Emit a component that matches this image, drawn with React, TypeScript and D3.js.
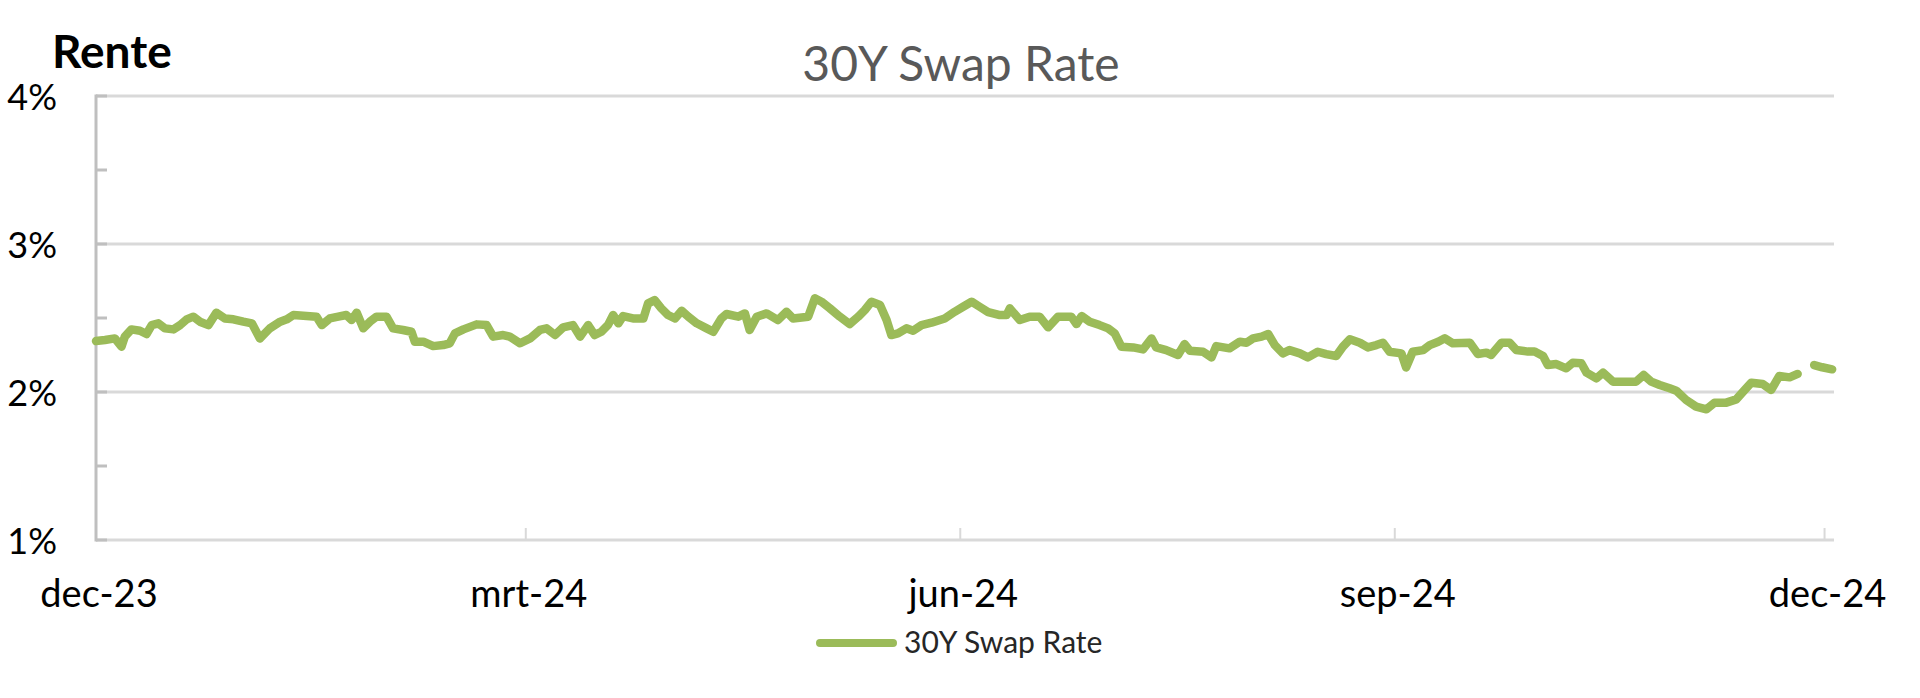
import React from "react";
import * as d3 from "d3";

// ---------- data ----------
const startDate = "2023-12-01";
const endDate = "2024-12-03";

// days since startDate
const dayOffsets: number[] = [
  0, 1.9, 4, 5.4, 6.1, 7.5, 9.3, 10.7, 11.8, 13.2, 14.6, 16.4, 17.8, 19.2, 20.6, 22, 23.8, 25.5, 27.3, 29.1,
  31.2, 33, 34.7, 36.8, 39, 40.4, 41.8, 43.9, 46.7, 47.8, 49.5, 51.3, 53, 54.1, 55.2, 56.6, 58, 59.4, 61.5, 62.9,
  65, 66.8, 67.5, 69.3, 71.4, 73.5, 74.9, 76, 77.8, 80.6, 82.7, 84.1, 86.2, 87.6, 89.8, 91.9, 94,
  95.4, 97.2, 98.9, 101, 102.5, 104.2, 105.6, 107, 108.4, 109.5, 110.6, 111.6, 113.7, 115.9, 116.9, 118.3, 119.7,
  121.1, 122.6, 124, 125.4, 127.2, 129.3, 130.7, 132.4, 133.5, 136, 137.4, 138.4, 139.9, 142, 144.4, 146.2, 147.6,
  150.8, 152.2, 153.6, 155.4, 157.5, 159.6, 161.4, 162.8, 164.2, 166, 167.4, 168.4, 169.8, 171.6, 173, 174.8, 176.9,
  179.7, 181.8, 183.6, 185.4, 187.1, 188.9,
  191.4, 192.8, 193.5, 195.6, 197.7, 199.8, 201.6, 203.7, 206.5, 207.6, 208.7, 210.4, 212.5, 214.3, 215.7, 217.1,
  219.6, 221.7, 223.5, 224.5, 226.6, 229.1, 230.5, 231.6, 234.4, 236.2, 237.2, 240, 242.2, 243.6, 245, 246.8, 248.2,
  249.6, 251.3, 252.7, 254.9, 256.6, 258.7, 260.5, 262.6, 264, 265.5, 267.6, 269.3, 271.1, 272.5, 273.9, 276.4,
  277.4, 278.8, 281, 282.4, 284.2,
  285.6, 287.3, 290.9, 292.6, 294.4, 295.4, 297.6, 299.3, 300.7, 303.2, 304.6, 306.4, 307.4, 309.2, 311.3, 312.7,
  314.5, 315.6, 317.7, 319.1, 321.2, 323.7, 326.1, 327.7, 329.3, 331.1, 333.2, 334.6, 336.7, 338.8, 341, 342.7,
  345.2, 347.3, 349.1, 350.5, 352.9, 354.7, 356.4, 358.6, 360.3, 362, 363.8, 365.5, 367.6,
];

// 30Y swap rate in %
const rates: (number | null)[] = [
  2.344, 2.351, 2.362, 2.306, 2.374, 2.423, 2.414, 2.392, 2.452, 2.464, 2.43, 2.423, 2.452, 2.491, 2.509, 2.475, 2.452, 2.536, 2.497, 2.491,
  2.475, 2.464, 2.362, 2.43, 2.475, 2.491, 2.52, 2.515, 2.509, 2.452, 2.497, 2.509, 2.52, 2.486, 2.536, 2.43, 2.475, 2.509, 2.509, 2.43,
  2.419, 2.407, 2.34, 2.34, 2.31, 2.317, 2.329, 2.396, 2.423, 2.457, 2.452, 2.374, 2.385, 2.374, 2.329, 2.362, 2.419,
  2.43, 2.385, 2.437, 2.452, 2.374, 2.452, 2.385, 2.407, 2.452, 2.52, 2.464, 2.513, 2.497, 2.497, 2.599, 2.621, 2.565,
  2.52, 2.497, 2.549, 2.509, 2.464, 2.43, 2.407, 2.497, 2.527, 2.509, 2.531, 2.419, 2.509, 2.531, 2.486, 2.542, 2.497,
  2.509, 2.633, 2.61, 2.565, 2.509, 2.459, 2.509, 2.554, 2.61, 2.588, 2.486, 2.385, 2.396, 2.43, 2.414, 2.452, 2.468,
  2.497, 2.542, 2.576, 2.61, 2.576, 2.54,
  2.52, 2.52, 2.565, 2.486, 2.509, 2.509, 2.437, 2.509, 2.509, 2.459, 2.513, 2.475, 2.452, 2.43, 2.396, 2.306,
  2.301, 2.288, 2.362, 2.301, 2.283, 2.25, 2.324, 2.279, 2.272, 2.234, 2.31, 2.295, 2.34, 2.333, 2.362, 2.374, 2.392,
  2.317, 2.261, 2.283, 2.261, 2.234, 2.272, 2.256, 2.243, 2.306, 2.356, 2.333, 2.301, 2.317, 2.333, 2.272, 2.261,
  2.166, 2.272, 2.283, 2.317, 2.34,
  2.363, 2.329, 2.333, 2.257, 2.266, 2.25, 2.333, 2.333, 2.284, 2.273, 2.273, 2.243, 2.182, 2.189, 2.16, 2.198,
  2.194, 2.131, 2.092, 2.131, 2.07, 2.07, 2.07, 2.115, 2.07, 2.047, 2.025, 2.009, 1.946, 1.901, 1.883, 1.928,
  1.928, 1.95, 2.014, 2.063, 2.054, 2.014, 2.108, 2.099, 2.122, null, 2.182, 2.167, 2.153,
];

const xTickDates = ["2023-12-01", "2024-03-01", "2024-06-01", "2024-09-01", "2024-12-01"];
const xTickLabels = ["dec-23", "mrt-24", "jun-24", "sep-24", "dec-24"];
const yGridValues = [1, 2, 3, 4];
const yMinorValues = [1, 1.5, 2, 2.5, 3, 3.5, 4];
const chartTitle = "30Y Swap Rate";
const yAxisTitle = "Rente";
const seriesName = "30Y Swap Rate";

// ---------- layout ----------
const W = 1920;
const H = 698;
const LEFT = 96;
const RIGHT = 1834;
const TOP = 96;
const BOTTOM = 540;
const GREEN = "#9bbb59";
const FONT = "Lato, 'Open Sans', sans-serif";

export default function App() {
  const parse = d3.utcParse("%Y-%m-%d");
  const start = parse(startDate)!;
  const x = d3.scaleUtc().domain([start, parse(endDate)!]).range([LEFT, RIGHT]);
  const y = d3.scaleLinear().domain([1, 4]).range([BOTTOM, TOP]);

  const data = dayOffsets.map((d, i) => ({
    date: new Date(start.getTime() + d * 86400000),
    v: rates[i],
  }));

  const line = d3
    .line<{ date: Date; v: number | null }>()
    .defined((d) => d.v != null)
    .x((d) => x(d.date))
    .y((d) => y(d.v as number));

  const pct = (v: number) => `${v}%`;

  return (
    <svg
      width={W}
      height={H}
      style={{ position: "absolute", left: 0, top: 0, background: "#fff" }}
      fontFamily={FONT}
    >
      <rect x={0} y={0} width={W} height={H} fill="#fff" />
      {/* gridlines */}
      {yGridValues.map((v) => (
        <line key={"g" + v} x1={LEFT} x2={RIGHT} y1={y(v)} y2={y(v)} stroke="#d9d9d9" strokeWidth={3} />
      ))}
      {/* x ticks */}
      {xTickDates.slice(1).map((d) => (
        <line
          key={"xt" + d}
          x1={x(parse(d)!)}
          x2={x(parse(d)!)}
          y1={BOTTOM}
          y2={BOTTOM - 12}
          stroke="#d9d9d9"
          strokeWidth={2}
        />
      ))}
      {/* y axis */}
      <line x1={LEFT} x2={LEFT} y1={TOP - 1.5} y2={BOTTOM + 1.5} stroke="#bfbfbf" strokeWidth={3} />
      {yMinorValues.map((v) => (
        <line key={"yt" + v} x1={LEFT} x2={LEFT + 11} y1={y(v)} y2={y(v)} stroke="#bfbfbf" strokeWidth={3} />
      ))}
      {/* y labels */}
      {yGridValues.map((v) => (
        <text
          key={"yl" + v}
          x={57}
          y={y(v)}
          textAnchor="end"
          dominantBaseline="central"
          fontSize={36}
          fill="#000"
        >
          {pct(v)}
        </text>
      ))}
      {/* x labels */}
      {xTickDates.map((d, i) => (
        <text key={"xl" + d} x={x(parse(d)!) + 3} y={607} textAnchor="middle" fontSize={38} fill="#000">
          {xTickLabels[i]}
        </text>
      ))}
      {/* series */}
      <path
        d={line(data) || ""}
        fill="none"
        stroke={GREEN}
        strokeWidth={8.5}
        strokeLinejoin="round"
        strokeLinecap="round"
      />
      {/* titles */}
      <text x={52} y={68} fontSize={46} fontWeight="bold" fill="#000">
        {yAxisTitle}
      </text>
      <text x={961} y={81} textAnchor="middle" fontSize={48} fill="#595959">
        {chartTitle}
      </text>
      {/* legend */}
      <line x1={820} x2={893} y1={643} y2={643} stroke={GREEN} strokeWidth={8} strokeLinecap="round" />
      <text x={904} y={653} fontSize={30} fill="#262626">
        {seriesName}
      </text>
    </svg>
  );
}
